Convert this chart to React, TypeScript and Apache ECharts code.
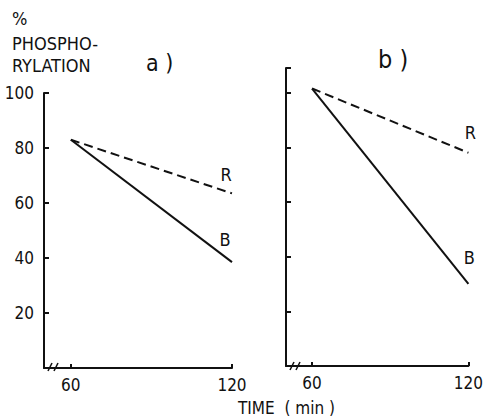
import React, { useEffect, useRef } from "react";
import * as echarts from "echarts";

const xTickValues = [60, 120];
const timesA = [60, 120];
const rValuesA = [83, 63.5];
const bValuesA = [83, 38.5];
const timesB = [60, 120];
const rValuesB = [101.5, 78];
const bValuesB = [101.5, 30];
const seriesNames = ["R", "B"];

const FONT = "'DejaVu Sans Condensed', 'Liberation Sans Narrow', sans-serif";
const INK = "#111";

function zip(xs: number[], ys: number[]) {
  return xs.map((x, i) => [x, ys[i]]);
}

function withEndLabel(pts: number[][], text: string, offset: number[]) {
  return pts.map((p, i) =>
    i === pts.length - 1
      ? {
          value: p,
          label: {
            show: true,
            position: "top",
            distance: 4,
            formatter: text,
            offset,
            color: INK,
            fontSize: 18,
            fontFamily: FONT,
          },
        }
      : { value: p }
  );
}

export default function App() {
  const ref = useRef<HTMLDivElement>(null);
  useEffect(() => {
    if (!ref.current) return;
    const chart = echarts.init(ref.current, null, { renderer: "svg" });
    const xAxisBase = {
      type: "value",
      min: 50,
      max: 120,
      axisLine: { show: true, lineStyle: { color: INK, width: 2 } },
      axisTick: { show: true, inside: true, length: 4, customValues: xTickValues, lineStyle: { color: INK, width: 2 } },
      axisLabel: { show: true, customValues: xTickValues, color: INK, fontSize: 17, fontFamily: FONT, margin: 8 },
      splitLine: { show: false },
    };
    const lineStyleR = { color: INK, width: 2, type: [9, 5] as any };
    const lineStyleB = { color: INK, width: 2, type: "solid" };
    const lineSeries = (name: string, idx: number, style: any, data: any) => ({
      name,
      type: "line",
      xAxisIndex: idx,
      yAxisIndex: idx,
      symbol: "circle",
      symbolSize: 0,
      showSymbol: true,
      itemStyle: { color: INK },
      lineStyle: style,
      data,
    });
    const slash = (x: number, y: number) => ({
      type: "line",
      shape: { x1: x, y1: y + 4, x2: x + 4, y2: y - 4 },
      style: { stroke: INK, lineWidth: 1.5 },
    });
    const txt = (x: number, y: number, text: string, size: number) => ({
      type: "text",
      x,
      y,
      style: { text, fill: INK, font: `${size}px ${FONT}`, textVerticalAlign: "middle" },
    });
    chart.setOption({
      animation: false,
      backgroundColor: "#fff",
      grid: [
        { left: 44, top: 93, width: 188, height: 275 },
        { left: 286, top: 68, width: 186, height: 298 },
      ],
      xAxis: [
        { ...xAxisBase, gridIndex: 0 },
        { ...xAxisBase, gridIndex: 1 },
      ],
      yAxis: [
        {
          type: "value",
          gridIndex: 0,
          min: 0,
          max: 100,
          interval: 20,
          axisLine: { show: true, lineStyle: { color: INK, width: 2 } },
          axisTick: { show: true, inside: true, length: 5, lineStyle: { color: INK, width: 2 } },
          axisLabel: {
            show: true,
            color: INK,
            fontSize: 17,
            fontFamily: FONT,
            margin: 10,
            formatter: (v: number) => (v === 0 ? "" : String(v)),
          },
          splitLine: { show: false },
        },
        {
          type: "value",
          gridIndex: 1,
          min: 0,
          max: 109,
          interval: 20,
          axisLine: { show: true, lineStyle: { color: INK, width: 2 } },
          axisTick: { show: true, inside: true, length: 5, lineStyle: { color: INK, width: 2 } },
          axisLabel: { show: false },
          splitLine: { show: false },
        },
      ],
      series: [
        lineSeries(seriesNames[0], 0, lineStyleR, withEndLabel(zip(timesA, rValuesA), seriesNames[0], [-6, -6])),
        lineSeries(seriesNames[1], 0, lineStyleB, withEndLabel(zip(timesA, bValuesA), seriesNames[1], [-7, -10])),
        lineSeries(seriesNames[0], 1, lineStyleR, withEndLabel(zip(timesB, rValuesB), seriesNames[0], [2, -7])),
        lineSeries(seriesNames[1], 1, lineStyleB, withEndLabel(zip(timesB, bValuesB), seriesNames[1], [1, -13])),
      ],
      graphic: [
        txt(12, 18, "%", 18),
        txt(12, 43, "PHOSPHO-", 18),
        txt(12, 65, "RYLATION", 18),
        txt(146, 63, "a )", 23),
        txt(378, 59, "b )", 25),
        txt(238, 408, "TIME  ( min )", 17),
        slash(48, 367),
        slash(54, 367),
        slash(290, 366),
        slash(296, 366),
      ],
    });
    return () => chart.dispose();
  }, []);
  return <div ref={ref} style={{ position: "fixed", left: 0, top: 0, width: 486, height: 418 }} />;
}
